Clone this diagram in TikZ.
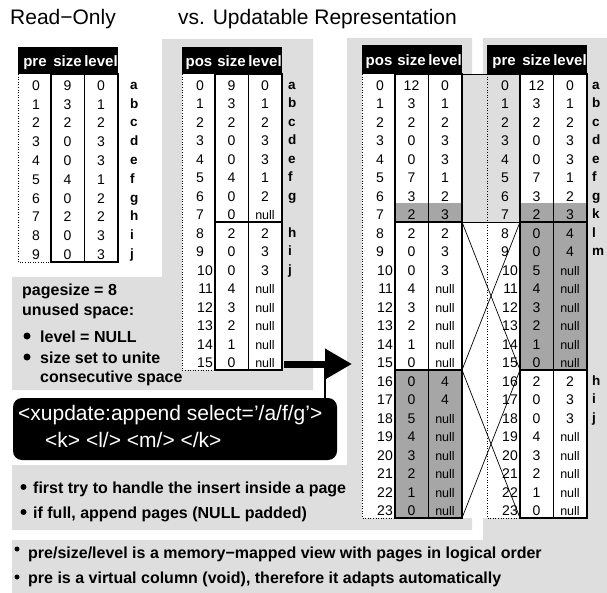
\documentclass[tikz,border=0pt]{standalone}
\usepackage{fontspec}
\setmainfont{Liberation Sans}
\usetikzlibrary{arrows.meta}
\definecolor{panel}{gray}{0.87}
\definecolor{newnode}{gray}{0.65}
\newcommand\nul{{\fontsize{12.5}{12.5}\selectfont null}}

\begin{document}
\begin{tikzpicture}[x=1pt, y=-1pt, nodes={inner sep=0pt},
  title/.style={anchor=base west, font=\fontsize{21}{21}\selectfont},
  head/.style={anchor=base, text=white, font=\fontsize{15}{15}\selectfont\bfseries},
  num/.style={anchor=base, font=\fontsize{14}{14}\selectfont},
  numr/.style={num, anchor=base east},
  tag/.style={anchor=base west, font=\fontsize{13.5}{13.5}\selectfont\bfseries},
  note/.style={anchor=base west, font=\fontsize{16}{16}\selectfont\bfseries},
  bul/.style={circle, fill=black, minimum size=6pt},
  xbox/.style={fill=black, rounded corners=9pt, minimum width=324pt, minimum height=62pt},
  xtxt/.style={anchor=base west, text=white, font=\fontsize{21}{21}\selectfont},
  tbox/.style={line width=2.4pt},
  tsep/.style={line width=1.3pt},
  tdot/.style={dotted, line width=0.6pt},
  map/.style={line width=0.7pt},
  push/.style={line width=7pt, -{Triangle[length=27pt, width=29pt]}}
  ]
  \useasboundingbox (0,0) rectangle (607,593);

  % panels
  \fill[panel] (12,277) -- (162,277) -- (162,39) -- (313,39) -- (313,390) -- (12,390) -- cycle;
  \fill[panel] (12,465) -- (347,465) -- (347,38) -- (472,38) -- (472,530) -- (12,530) -- cycle;
  \fill[panel] (12,540) -- (483,540) -- (483,38) -- (607,38) -- (607,593) -- (12,593) -- cycle;
  \fill[panel] (462,74) rectangle (520,222);
  \fill[white] (462,222) rectangle (520,518);

  \node[title] (ro) at (10,25) {Read−Only};
  \node[title] (up) at (178,25) {vs. Updatable Representation};

  % read-only table
  \fill (18,47) rectangle (118,74);
  \node[head] (h1a) at (35,67) {pre};
  \node[head] (h1b) at (67.5,67) {size};
  \node[head] (h1c) at (101,67) {level};
  \foreach \s/\v [count=\i from 0] in {9/0,3/1,2/2,0/3,0/3,4/1,0/2,2/2,0/3,0/3} {
    \pgfmathsetmacro\yb{90.4+18.8*\i}
    \node[num] (r1p\i) at (36,\yb) {\i};
    \node[num] (r1s\i) at (67.5,\yb) {\s};
    \node[num] (r1l\i) at (101,\yb) {\v};
  }
  \foreach \t [count=\i from 0] in {a,...,j}
    \node[tag] (r1t\i) at (130,{89.4+18.8*\i}) {\t};
  \draw[tdot] (18,74) -- (18,262) -- (51,262);
  \draw[tbox] (51,74) rectangle (118,262);
  \draw[tsep] (84.5,74) -- (84.5,262);

  % updatable table, one page free space
  \fill[white] (182,74) rectangle (282,370);
  \fill (182,47) rectangle (282,74);
  \node[head] (h2a) at (199,67) {pos};
  \node[head] (h2b) at (231.5,67) {size};
  \node[head] (h2c) at (265,67) {level};
  \foreach \s/\v [count=\i from 0] in {9/0,3/1,2/2,0/3,0/3,4/1,0/2,0/\nul,
      2/2,0/3,0/3,4/\nul,3/\nul,2/\nul,1/\nul,0/\nul} {
    \pgfmathsetmacro\yb{90.25+18.5*\i}
    \ifnum\i<10 \node[num] (r2p\i) at (200,\yb) {\i};
    \else \node[numr] (r2p\i) at (213,\yb) {\i}; \fi
    \node[num] (r2s\i) at (231.5,\yb) {\s};
    \node[num] (r2l\i) at (265,\yb) {\v};
  }
  \foreach \t/\r in {a/0,b/1,c/2,d/3,e/4,f/5,g/6,h/8,i/9,j/10}
    \node[tag] (r2t\r) at (288,{89.25+18.5*\r}) {\t};
  \draw[tdot] (182,74) -- (182,370) -- (215,370);
  \draw[tbox] (215,74) rectangle (282,370);
  \draw[tsep] (248.5,74) -- (248.5,370);
  \draw[tbox] (215,222) -- (282,222);

  % after the insert, physical order
  \fill[white] (362,74) rectangle (395,518);
  \fill (362,45) rectangle (462,74);
  \node[head] (h3a) at (379,66) {pos};
  \node[head] (h3b) at (411.5,66) {size};
  \node[head] (h3c) at (445,66) {level};
  \foreach \s/\v/\f [count=\i from 0] in {12/0/white,3/1/white,2/2/white,0/3/white,
      0/3/white,7/1/white,3/2/white,2/3/newnode,2/2/white,0/3/white,0/3/white,
      4/\nul/white,3/\nul/white,2/\nul/white,1/\nul/white,0/\nul/white,
      0/4/newnode,0/4/newnode,5/\nul/newnode,4/\nul/newnode,3/\nul/newnode,
      2/\nul/newnode,1/\nul/newnode,0/\nul/newnode} {
    \pgfmathsetmacro\yb{90.25+18.5*\i}
    \fill[\f] (395,{74+18.5*\i}) rectangle (462,{92.5+18.5*\i});
    \ifnum\i<10 \node[num] (r3p\i) at (380,\yb) {\i};
    \else \node[numr] (r3p\i) at (393,\yb) {\i}; \fi
    \node[num] (r3s\i) at (411.5,\yb) {\s};
    \node[num] (r3l\i) at (445,\yb) {\v};
  }
  \draw[tdot] (362,74) -- (362,518) -- (395,518);

  % logical view
  \fill (487,45) rectangle (587,74);
  \node[head] (h4a) at (504,66) {pre};
  \node[head] (h4b) at (536.5,66) {size};
  \node[head] (h4c) at (570,66) {level};
  \foreach \s/\v/\f [count=\i from 0] in {12/0/white,3/1/white,2/2/white,0/3/white,
      0/3/white,7/1/white,3/2/white,2/3/newnode,0/4/newnode,0/4/newnode,
      5/\nul/newnode,4/\nul/newnode,3/\nul/newnode,2/\nul/newnode,1/\nul/newnode,
      0/\nul/newnode,2/2/white,0/3/white,0/3/white,4/\nul/white,3/\nul/white,
      2/\nul/white,1/\nul/white,0/\nul/white} {
    \pgfmathsetmacro\yb{90.25+18.5*\i}
    \fill[\f] (520,{74+18.5*\i}) rectangle (587,{92.5+18.5*\i});
    \ifnum\i<10 \node[num] (r4p\i) at (505,\yb) {\i};
    \else \node[numr] (r4p\i) at (518,\yb) {\i}; \fi
    \node[num] (r4s\i) at (536.5,\yb) {\s};
    \node[num] (r4l\i) at (570,\yb) {\v};
  }
  \foreach \t/\r in {a/0,b/1,c/2,d/3,e/4,f/5,g/6,k/7,l/8,m/9,h/16,i/17,j/18}
    \node[tag] (r4t\r) at (592,{89.25+18.5*\r}) {\t};
  \draw[tdot] (487,74) -- (487,518) -- (520,518);

  % page mapping
  \coordinate (m3a) at (462,74);  \coordinate (m4a) at (520,74);
  \coordinate (m3b) at (462,222); \coordinate (m4b) at (520,222);
  \coordinate (m3c) at (462,370); \coordinate (m4c) at (520,370);
  \coordinate (m3d) at (462,518); \coordinate (m4d) at (520,518);
  \draw[map] (m3a) -- (m4a);
  \draw[map] (m3b) -- (m4b);
  \draw[map] (m3b) -- (m4c);
  \draw[map] (m3c) -- (m4d);
  \draw[map] (m3c) -- (m4b);
  \draw[map] (m3d) -- (m4c);

  \draw[tbox] (395,74) rectangle (462,518);
  \draw[tsep] (428.5,74) -- (428.5,518);
  \draw[tbox] (395,222) -- (462,222);
  \draw[tbox] (395,370) -- (462,370);
  \draw[tbox] (520,74) rectangle (587,518);
  \draw[tsep] (553.5,74) -- (553.5,518);
  \draw[tbox] (520,222) -- (587,222);
  \draw[tbox] (520,370) -- (587,370);

  % free space notes
  \node[note] (ps) at (22,296) {pagesize = 8};
  \node[note] (us) at (22,316) {unused space:};
  \node[bul, minimum size=7pt] (b1) at (27,336) {};
  \node[note] (n1) at (40,342) {level = NULL};
  \node[bul, minimum size=7pt] (b2) at (27,357) {};
  \node[note] (n2) at (40,363) {size set to unite};
  \node[note] (n3) at (40,382) {consecutive space};

  % the update
  \coordinate (arrS) at (284,364);
  \coordinate (arrE) at (352,364);
  \coordinate (hook) at (325,364);
  \draw[push] (arrS) -- (arrE);
  \node[xbox] (xq) at (175,429) {};
  \draw[line width=2pt] (xq.north -| hook) -- (hook);
  \node[xtxt] (xl1) at (18,420) {<xupdate:append select='/a/f/g'>};
  \node[xtxt] (xl2) at (45,447) {<k> <l/> <m/> </k>};

  \node[bul] (b3) at (23.5,487) {};
  \node[note] (n4) at (33,493) {first try to handle the insert inside a page};
  \node[bul] (b4) at (23.5,512) {};
  \node[note] (n5) at (33,518) {if full, append pages (NULL padded)};

  \node[bul, minimum size=5pt] (b5) at (17,549) {};
  \node[note] (n6) at (28,558) {pre/size/level is a memory−mapped view with pages in logical order};
  \node[bul, minimum size=5pt] (b6) at (17,577) {};
  \node[note] (n7) at (28,583) {pre is a virtual column (void), therefore it adapts automatically};
\end{tikzpicture}
\end{document}
